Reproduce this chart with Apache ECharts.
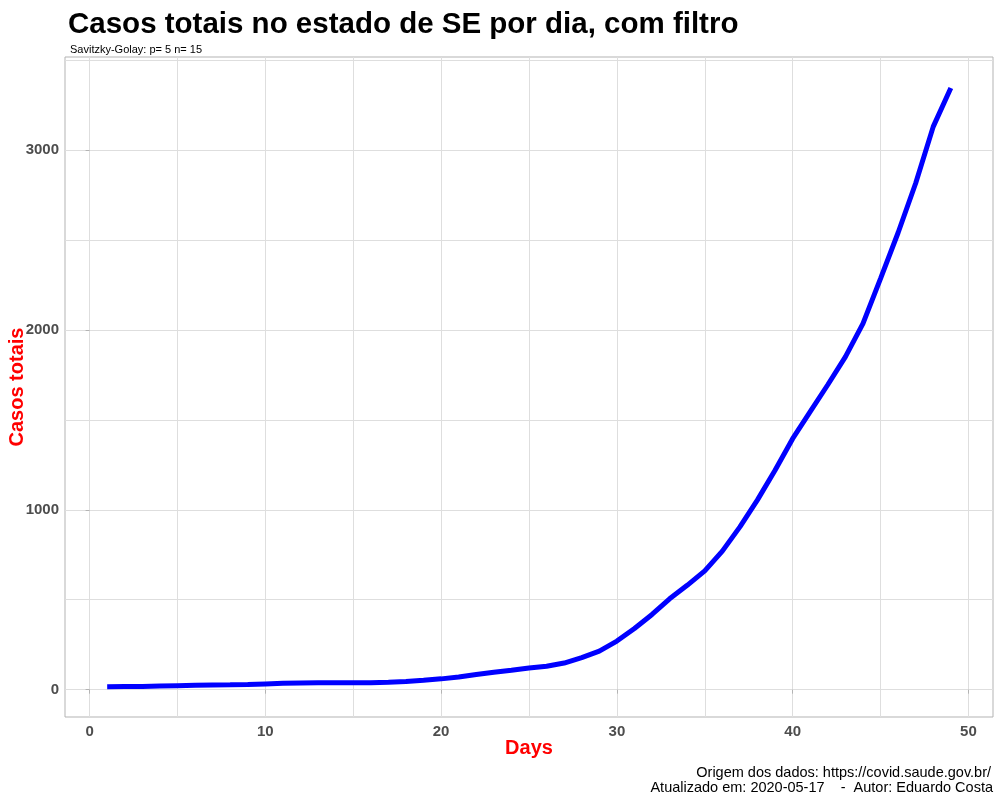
<!DOCTYPE html>
<html>
<head>
<meta charset="utf-8">
<script src="https://cdn.jsdelivr.net/npm/echarts@6/dist/echarts.min.js"></script>
<style>
  html, body { margin: 0; padding: 0; background: #fff; }
  #chart { width: 1000px; height: 800px; }
</style>
</head>
<body>
<div id="chart"></div>
<script>
// dia (1..49) e casos totais suavizados (Savitzky-Golay)
const days = [1, 2, 3, 4, 5, 6, 7, 8, 9, 10, 11, 12, 13, 14, 15, 16, 17, 18, 19, 20,
  21, 22, 23, 24, 25, 26, 27, 28, 29, 30, 31, 32, 33, 34, 35, 36, 37, 38, 39, 40,
  41, 42, 43, 44, 45, 46, 47, 48, 49];
const casos = [16, 17, 18, 20, 22, 24, 26, 27, 29, 32, 35, 37, 38, 38, 38, 39, 41, 45, 52, 60,
  70, 84, 97, 108, 120, 130, 148, 178, 214, 270, 340, 418, 505, 580, 660, 770, 905, 1055, 1220, 1395,
  1545, 1695, 1850, 2035, 2285, 2540, 2815, 3130, 3345];
const xMajor = [0, 10, 20, 30, 40, 50];
const xMinor = [5, 15, 25, 35, 45];
const yMajor = [0, 1000, 2000, 3000];
const yMinor = [500, 1500, 2500, 3500];

const chart = echarts.init(document.getElementById('chart'));
const font = 'Liberation Sans, Arial, sans-serif';
const gridCol = '#dedede';
const tickLabel = {
  color: '#4d4d4d', fontSize: 15, fontWeight: 'bold', fontFamily: font,
  formatter: v => String(v)
};

chart.setOption({
  backgroundColor: '#fff',
  animation: false,
  title: [{
    text: 'Casos totais no estado de SE por dia, com filtro',
    left: 63, top: 5,
    textStyle: { fontSize: 29.5, fontWeight: 'bold', color: '#000', fontFamily: font }
  }, {
    text: 'Savitzky-Golay: p= 5 n= 15',
    left: 65, top: 39,
    textStyle: { fontSize: 11, fontWeight: 'normal', color: '#000', fontFamily: font }
  }],
  graphic: [{
    type: 'text', right: 9, top: 765,
    style: { text: 'Origem dos dados: https://covid.saude.gov.br/', fill: '#000', fontSize: 14.5, fontFamily: font }
  }, {
    type: 'text', right: 7, top: 780,
    style: { text: 'Atualizado em: 2020-05-17    -  Autor: Eduardo Costa', fill: '#000', fontSize: 14.5, fontFamily: font }
  }],
  grid: {
    left: 65, right: 7, top: 57, bottom: 83, outerBoundsMode: 'none', containLabel: false,
    show: true, borderColor: '#b3b3b3', borderWidth: 1
  },
  xAxis: [{
    type: 'value', min: -1.4, max: 51.4,
    name: 'Days', nameLocation: 'middle', nameGap: 21, nameMoveOverlap: false,
    nameTextStyle: { color: '#ff0000', fontSize: 20, fontWeight: 'bold', fontFamily: font },
    axisLine: { show: false },
    axisTick: { show: true, inside: false, length: 4, customValues: xMajor, lineStyle: { color: '#b3b3b3' } },
    axisLabel: { customValues: xMajor, margin: 7, ...tickLabel },
    splitLine: { show: true, lineStyle: { color: gridCol, width: 1 } }
  }, {
    type: 'value', min: -1.4, max: 51.4, position: 'top',
    axisLine: { show: false },
    axisTick: { show: false, customValues: xMinor },
    axisLabel: { show: false, customValues: xMinor },
    splitLine: { show: true, lineStyle: { color: gridCol, width: 1 } }
  }],
  yAxis: [{
    type: 'value', min: -152, max: 3517,
    name: 'Casos totais', nameLocation: 'middle', nameGap: 38, nameMoveOverlap: false,
    nameTextStyle: { color: '#ff0000', fontSize: 20, fontWeight: 'bold', fontFamily: font },
    axisLine: { show: false },
    axisTick: { show: true, inside: false, length: 4, customValues: yMajor, lineStyle: { color: '#b3b3b3' } },
    axisLabel: { customValues: yMajor, margin: 6, ...tickLabel },
    splitLine: { show: true, lineStyle: { color: gridCol, width: 1 } }
  }, {
    type: 'value', min: -152, max: 3517, position: 'right',
    axisLine: { show: false },
    axisTick: { show: false, customValues: yMinor },
    axisLabel: { show: false, customValues: yMinor },
    splitLine: { show: true, lineStyle: { color: gridCol, width: 1 } }
  }],
  series: [{
    type: 'line',
    data: days.map((d, i) => [d, casos[i]]),
    showSymbol: false,
    lineStyle: { color: '#0000ff', width: 5 },
    z: 5
  }]
});
</script>
</body>
</html>
